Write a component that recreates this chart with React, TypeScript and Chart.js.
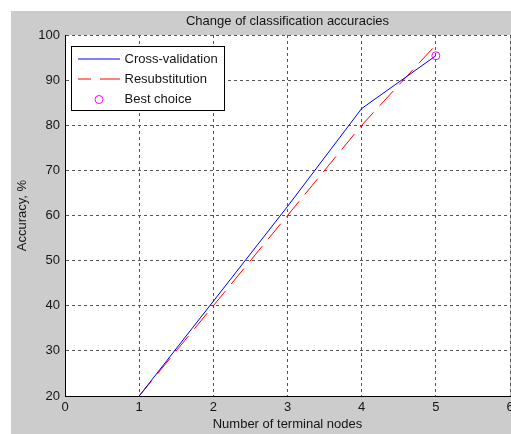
import React, { useEffect, useRef } from "react";
import { Chart, registerables } from "chart.js";

Chart.register(...registerables);

const chartTitle = "Change of classification accuracies";
const xAxisTitle = "Number of terminal nodes";
const yAxisTitle = "Accuracy, %";
const seriesLabels = ["Cross-validation", "Resubstitution", "Best choice"];
const seriesColors = ["#0000ff", "#ff0000", "#ff00ff"];

const terminalNodes = [1, 2, 3, 4, 5];
const crossValidation = [20, 41, 62, 83.7, 95.4];
const resubstitution = [20, 40, 60, 80, 97.8];
const bestChoiceNodes = [5];
const bestChoiceAccuracy = [95.4];

const xTickValues = [0, 1, 2, 3, 4, 5, 6];
const yTickValues = [20, 30, 40, 50, 60, 70, 80, 90, 100];

const FONT = "'Liberation Sans', Arial, Helvetica, sans-serif";
const TEXT_COLOR = "#151515";
const FIG_BG = "#cccccc";
const RED_DASH = [20, 9];

const toPoints = (xs: number[], ys: number[]) => xs.map((x, i) => ({ x, y: ys[i] }));

const backgroundPlugin = {
  id: "figBackground",
  beforeDraw(chart: any) {
    const { ctx, chartArea, width, height } = chart;
    ctx.save();
    ctx.fillStyle = FIG_BG;
    ctx.fillRect(0, 0, width, height);
    ctx.fillStyle = "#ffffff";
    ctx.fillRect(chartArea.left, chartArea.top, chartArea.right - chartArea.left, chartArea.bottom - chartArea.top);
    ctx.restore();
  },
};

const boxedLegendPlugin = {
  id: "boxedLegend",
  afterDraw(chart: any) {
    const { ctx, chartArea } = chart;
    const bx = Math.round(chartArea.left) + 6.5;
    const by = Math.round(chartArea.top) + 11.5;
    const bw = 153;
    const bh = 64;
    ctx.save();
    ctx.fillStyle = "#ffffff";
    ctx.fillRect(bx, by, bw, bh);
    ctx.strokeStyle = "#000000";
    ctx.lineWidth = 1;
    ctx.setLineDash([]);
    ctx.strokeRect(bx, by, bw, bh);
    ctx.font = `13px ${FONT}`;
    ctx.textBaseline = "middle";
    ctx.textAlign = "left";
    for (let i = 0; i < seriesLabels.length; i++) {
      const y = Math.round(chartArea.top) + 24 + i * 20;
      const x0 = bx + 6.5;
      const x1 = bx + 48.5;
      ctx.save();
      ctx.strokeStyle = seriesColors[i];
      ctx.lineWidth = 1.2;
      ctx.beginPath();
      if (i === 2) {
        ctx.setLineDash([]);
        ctx.lineWidth = 1;
        ctx.arc((x0 + x1) / 2, y + 0.5, 4, 0, Math.PI * 2);
      } else {
        ctx.setLineDash(i === 1 ? RED_DASH : []);
        ctx.lineDashOffset = i === 1 ? 7 : 0;
        ctx.moveTo(x0, y);
        ctx.lineTo(x1, y);
      }
      ctx.stroke();
      ctx.restore();
      ctx.fillStyle = TEXT_COLOR;
      ctx.fillText(seriesLabels[i], bx + 53, y + 0.5);
    }
    ctx.restore();
  },
};

export default function App() {
  const canvasRef = useRef<HTMLCanvasElement | null>(null);

  useEffect(() => {
    const canvas = canvasRef.current;
    if (!canvas) return;
    const chart = new Chart(canvas, {
      type: "line",
      data: {
        datasets: [
          {
            label: seriesLabels[0],
            data: toPoints(terminalNodes, crossValidation),
            borderColor: seriesColors[0],
            borderWidth: 1,
            pointRadius: 0,
            tension: 0,
            order: 1,
          },
          {
            label: seriesLabels[1],
            data: toPoints(terminalNodes, resubstitution),
            borderColor: seriesColors[1],
            borderWidth: 1,
            borderDash: RED_DASH,
            pointRadius: 0,
            tension: 0,
            order: 2,
          },
          {
            label: seriesLabels[2],
            data: toPoints(bestChoiceNodes, bestChoiceAccuracy),
            showLine: false,
            borderColor: seriesColors[2],
            backgroundColor: "rgba(0,0,0,0)",
            pointBorderColor: seriesColors[2],
            pointBackgroundColor: "rgba(0,0,0,0)",
            pointBorderWidth: 1,
            pointRadius: 4,
            pointStyle: "circle",
            order: 0,
          } as any,
        ],
      },
      options: {
        animation: false,
        responsive: false,
        devicePixelRatio: 1,
        events: [],
        layout: { autoPadding: false, padding: { top: 0, left: 0, bottom: 0, right: 1 } },
        plugins: {
          legend: { display: false },
          tooltip: { enabled: false },
          title: {
            display: true,
            text: chartTitle,
            fullSize: false,
            color: TEXT_COLOR,
            font: { family: FONT, size: 13, weight: "normal" },
            padding: { top: 2.5, bottom: 5.9 },
          },
        },
        scales: {
          x: {
            type: "linear",
            min: 0,
            max: 6,
            afterBuildTicks: (scale: any) => {
              scale.ticks = xTickValues.map((v) => ({ value: v }));
            },
            afterFit: (scale: any) => {
              scale.height = 38;
              scale.paddingLeft = 0;
              scale.paddingRight = 0;
            },
            ticks: {
              color: TEXT_COLOR,
              font: { family: FONT, size: 13 },
              padding: 4,
              maxRotation: 0,
              autoSkip: false,
            },
            grid: { color: "#555555", lineWidth: 1, drawTicks: false },
            border: { display: true, color: "#000000", width: 1, dash: [3, 3] },
            title: {
              display: true,
              text: xAxisTitle,
              color: TEXT_COLOR,
              font: { family: FONT, size: 13 },
              padding: { top: 0, bottom: 1.5 },
            },
          },
          y: {
            type: "linear",
            min: 20,
            max: 100,
            afterBuildTicks: (scale: any) => {
              scale.ticks = yTickValues.map((v) => ({ value: v }));
            },
            afterFit: (scale: any) => {
              scale.width = 54;
              scale.paddingTop = 0;
              scale.paddingBottom = 0;
            },
            ticks: {
              color: TEXT_COLOR,
              font: { family: FONT, size: 13 },
              padding: 5,
              autoSkip: false,
            },
            grid: { color: "#555555", lineWidth: 1, drawTicks: false },
            border: { display: true, color: "#000000", width: 1, dash: [3, 3] },
            title: {
              display: true,
              text: yAxisTitle,
              color: TEXT_COLOR,
              font: { family: FONT, size: 13 },
              padding: { top: 3.2, bottom: 0 },
            },
          },
        },
      },
      plugins: [backgroundPlugin, boxedLegendPlugin],
    } as any);
    return () => chart.destroy();
  }, []);

  return (
    <div style={{ position: "absolute", left: 11, top: 11, width: 500, height: 423 }}>
      <canvas ref={canvasRef} width={500} height={423} style={{ display: "block", width: 500, height: 423 }} />
    </div>
  );
}
